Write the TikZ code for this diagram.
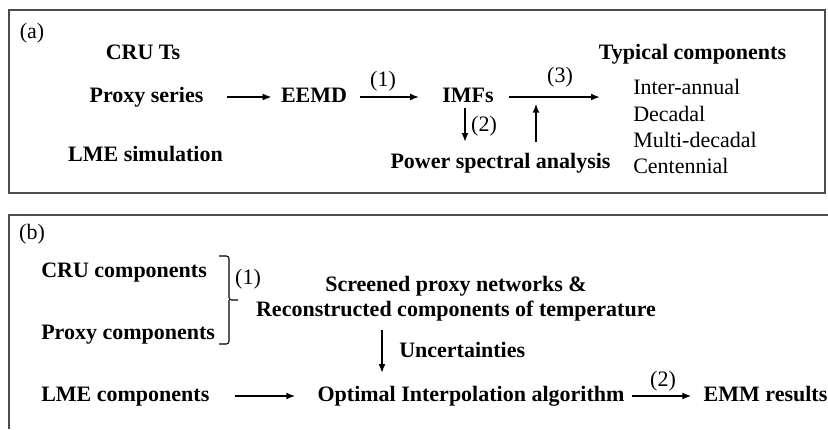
\documentclass[tikz,border=0pt]{standalone}
\usepackage{fontspec}
\setmainfont{Liberation Serif}
\usetikzlibrary{arrows.meta}

\begin{document}
\begin{tikzpicture}[x=0.75pt,y=0.75pt,yscale=-1,xscale=1,
  txt/.style={inner sep=0.75pt,font=\fontsize{16.5}{19.8}\selectfont,text height=11.6pt,text depth=3.6pt},
  bold/.style={txt,font=\fontsize{16.5}{19.8}\selectfont\bfseries},
  arr/.style={-{Latex[length=6.75pt,width=5.25pt]},line width=1.3pt},
  frame/.style={line width=1pt,draw=black!70}]
  \useasboundingbox (0,0) rectangle (828,429);

  %Frames
  \draw[frame] (9,10) rectangle (825,193);
  \draw[frame] (828,215) -- (9,215) -- (9,429);

  % Text Node
  \node[txt] (tga) at (32,33) {(a)};
  % Text Node
  \node[bold] (cru) at (143,54) {CRU Ts};
  % Text Node
  \node[bold] (proxy) at (146.5,97) {Proxy series};
  % Text Node
  \node[bold] (lme) at (145.5,156) {LME simulation};
  % Text Node
  \node[bold] (eemd) at (314,97) {EEMD};
  % Text Node
  \node[bold] (imfs) at (468,97) {IMFs};
  % Text Node
  \node[bold] (typ) at (692.5,54) {Typical components};
  % Text Node
  \node[txt,anchor=west] (ia) at (632,89) {Inter-annual};
  \node[txt,anchor=west] (dec) at (632,116) {Decadal};
  \node[txt,anchor=west] (mdec) at (632,142) {Multi-decadal};
  \node[txt,anchor=west] (cent) at (632,168) {Centennial};
  % Text Node
  \node[bold] (power) at (500.5,163) {Power spectral analysis};
  % Text Node
  \node[txt] (s1) at (383,81) {(1)};
  \node[txt] (s3) at (560,77) {(3)};
  \node[txt] (s2) at (484,126) {(2)};

  \coordinate (tc) at (600,97);
  \coordinate (join) at (536,97);

  %Straight Lines
  \draw[arr,shorten <=17pt,shorten >=6pt] (proxy) -- (eemd);
  \draw[arr,shorten <=9pt,shorten >=16.5pt] (eemd) -- (imfs);
  \draw[arr,shorten <=10.5pt] (imfs) -- (tc);
  \path ([xshift=-2.25pt]imfs.south) coordinate (dn);
  \draw[arr,shorten >=7.2pt] (dn) -- (dn |- power.north);
  \draw[arr,shorten <=7.2pt,shorten >=5pt] (power.north -| join) -- (join);

  % Text Node
  \node[txt] (tgb) at (32,234) {(b)};
  % Text Node
  \node[bold,anchor=west] (crucomp) at (40,272) {CRU components};
  \node[bold,anchor=west] (proxcomp) at (40,334) {Proxy components};
  \node[bold,anchor=west] (lmecomp) at (40,396) {LME components};
  % Text Node
  \node[bold] (screen) at (456,286) {Screened proxy networks \&};
  \node[bold] (recon) at (456,311) {Reconstructed components of temperature};
  % Text Node
  \node[bold,anchor=west] (unc) at (398,352) {Uncertainties};
  % Text Node
  \node[bold] (opt) at (471,396) {Optimal Interpolation algorithm};
  \node[bold] (emm) at (765.5,396) {EMM results};
  % Text Node
  \node[txt] (b1) at (248,279) {(1)};
  \node[txt] (b2) at (663,381) {(2)};

  %Bracket
  \coordinate (brtip) at (238,300);
  \draw[line width=0.8pt,rounded corners=2pt] (219,256) -| (229,300) -- (brtip);
  \draw[line width=0.8pt,rounded corners=2pt] (219,344) -| (229,300);

  %Straight Lines
  \draw[arr,shorten <=18pt,shorten >=15.75pt] (lmecomp) -- (opt);
  \draw[arr,shorten <=4.5pt,shorten >=8.25pt] (opt) -- (emm);
  \path ([xshift=-12pt]unc.west) coordinate (ux);
  \draw[arr,shorten <=6pt,shorten >=8.7pt] (recon.south -| ux) -- (opt.north -| ux);

\end{tikzpicture}
\end{document}
